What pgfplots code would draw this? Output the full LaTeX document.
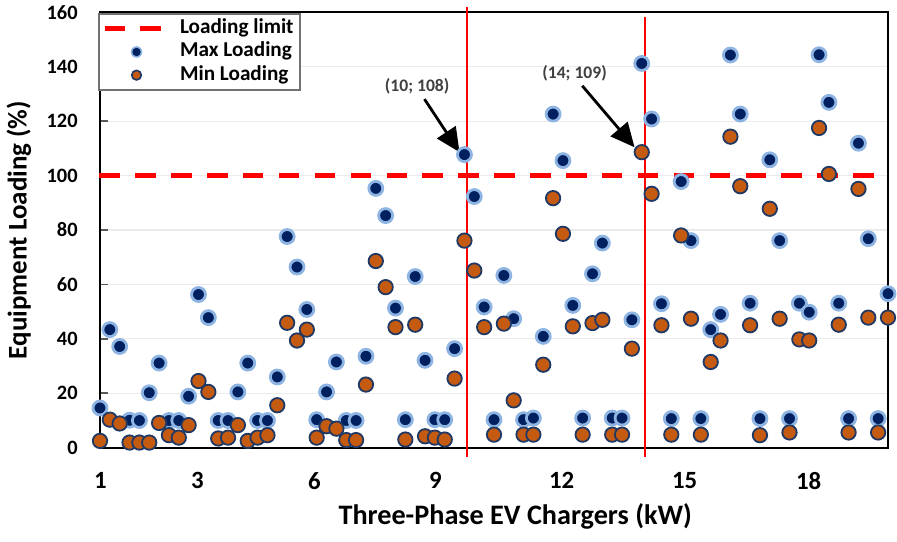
\documentclass[border=0pt]{standalone}
\usepackage{fontspec}
\setmainfont{Carlito}
\usepackage{pgfplots}
\usepackage{pgfplotstable}
\pgfplotsset{compat=1.18}
\usetikzlibrary{arrows.meta}

\definecolor{maxblue}{HTML}{002060}
\definecolor{maxglow}{HTML}{8DB4E2}
\definecolor{minorange}{HTML}{C55A11}
\definecolor{minedge}{HTML}{1F3864}
\definecolor{axgray}{HTML}{595959}
\definecolor{annot}{HTML}{404040}

\pgfplotsset{
  limitlegend/.style={legend image code/.code={\draw[##1] (0pt,0pt) -- (28.5pt,0pt);}},
  maxlegend/.style={legend image code/.code={\path[draw=none] (0pt,0pt) -- (28.5pt,0pt);
    \fill[draw=none, maxglow] (16pt,0pt) circle (2.9pt);
    \fill[draw=none, maxblue] (16pt,0pt) circle (2.1pt);}},
  minlegend/.style={legend image code/.code={\path[draw=none] (0pt,0pt) -- (28.5pt,0pt);
    \filldraw[fill=minorange, draw=minedge, line width=0.8pt] (16pt,0pt) circle (2.4pt);}},
}

% idx = case number along the axis, mx = max loading, mn = min loading (%)
\pgfplotstableread{
idx mx mn
0 14.6 2.5
1 43.4 10.3
2 37.2 8.9
3 10.1 1.9
4 10.0 1.9
5 20.2 1.9
6 31.1 9.1
7 10.0 4.6
8 10.0 3.7
9 18.9 8.3
10 56.3 24.5
11 47.8 20.5
12 10.0 3.4
13 10.0 3.7
14 20.5 8.3
15 31.1 2.5
16 10.0 3.7
17 10.0 4.6
18 26.0 15.6
19 77.6 45.9
20 66.4 39.4
21 50.8 43.4
22 10.3 3.7
23 20.5 7.9
24 31.5 7.0
25 10.0 2.8
26 10.0 2.8
27 33.6 23.2
28 95.3 68.6
29 85.3 59.0
30 51.3 44.3
31 10.3 3.0
32 62.9 45.2
33 32.1 4.2
34 10.3 3.7
35 10.3 3.0
36 36.4 25.4
37 107.7 76.1
38 92.3 65.1
39 51.7 44.3
40 10.3 4.8
41 63.3 45.6
42 47.4 17.4
43 10.3 4.8
44 10.9 4.8
45 40.9 30.5
46 122.6 91.7
47 105.5 78.6
48 52.3 44.6
49 10.9 4.8
50 63.9 45.8
51 75.2 47.0
52 10.9 4.8
53 10.9 4.8
54 47.0 36.4
55 141.2 108.6
56 120.8 93.3
57 52.9 45.0
58 10.7 4.8
59 97.8 78.0
60 76.1 47.4
61 10.7 4.8
62 43.4 31.5
63 49.0 39.4
64 144.3 114.3
65 122.6 96.1
66 53.1 45.0
67 10.7 4.6
68 105.8 87.8
69 76.1 47.4
70 10.7 5.6
71 53.1 39.8
72 49.8 39.4
73 144.4 117.5
74 126.9 100.6
75 53.1 45.2
76 10.7 5.6
77 111.9 95.1
78 76.8 47.8
79 10.7 5.6
80 56.6 47.8
}\loading

\begin{document}
\begin{tikzpicture}
\begin{axis}[
  at={(0,0)}, anchor=south west,
  scale only axis, width=394pt, height=217.7pt,
  xmin=0, xmax=80, ymin=0, ymax=160,
  clip=false,
  xtick={0.03,9.88,21.77,34.06,46.86,59.35,71.94},
  xticklabels={1,3,6,9,12,15,18},
  ytick={0,20,...,160},
  ytick pos=left, tick align=inside,
  major tick length=4pt,
  x tick style={draw=none},
  y tick style={axgray, line width=0.9pt},
  ymajorgrids, grid style={black!8, line width=0.6pt},
  axis line style={line width=1.1pt},
  /pgf/number format/assume math mode=true,
  yticklabel style={font=\fontsize{10.2}{12}\selectfont\bfseries, anchor=east, inner sep=0pt, xshift=-11pt},
  xticklabel style={font=\fontsize{12.4}{14}\selectfont\bfseries, anchor=north, inner sep=0pt, yshift=-12.1pt},
  xlabel={Three-Phase EV Chargers (kW)},
  ylabel={Equipment Loading (\%)},
  xlabel style={at={(axis description cs:0.527,-0.1775)}, anchor=base, font=\fontsize{14.1}{16}\selectfont\bfseries},
  ylabel style={at={(axis description cs:-0.093,0.5)}, anchor=base, font=\fontsize{13.5}{16}\selectfont\bfseries},
  legend cell align=left,
  legend style={at={(axis description cs:-0.0025,0.998)}, anchor=north west,
    draw=axgray!85, line width=1pt, fill=white, inner sep=1.5pt,
    column sep=6.5pt,
    font=\fontsize{10.6}{12.7}\selectfont\bfseries,
    nodes={inner xsep=1.5pt, inner ysep=0.8pt, text height=0.75em, text depth=0.25em}},
]
\addplot[red, line width=2.5pt, dash pattern=on 10.25pt off 7.7pt, limitlegend]
  coordinates {(-0.07,100) (78.55,100)};
\addlegendentry{Loading limit}

\addplot[only marks, mark=*, mark size=3.5pt,
  mark options={fill=maxblue, draw=maxglow, line width=1.4pt}, maxlegend]
  table[x=idx, y=mx] {\loading};
\addlegendentry{Max Loading}

\addplot[only marks, mark=*, mark size=3.6pt,
  mark options={fill=minorange, draw=minedge, line width=0.9pt}, minlegend]
  table[x=idx, y=mn] {\loading};
\addlegendentry{Min Loading}

\addplot[red, line width=1pt, forget plot] coordinates {(37.28,162) (37.28,-3.5)};
\addplot[red, line width=1pt, forget plot] coordinates {(55.29,158.4) (55.29,-3.5)};

\draw[black, line width=1.4pt, -{Triangle[length=12pt,width=11pt]}]
  (axis cs:32.94,128.1) -- (axis cs:36.5,108.6);
\draw[black, line width=1.4pt, -{Triangle[length=12pt,width=11pt]}]
  (axis cs:48.96,133.0) -- (axis cs:54.27,110.4);
\node[font=\fontsize{8.8}{10}\selectfont\bfseries, text=annot] at (axis cs:32.2,132.7) {(10; 108)};
\node[font=\fontsize{8.8}{10}\selectfont\bfseries, text=annot] at (axis cs:48.18,137.5) {(14; 109)};
\end{axis}
\pgfresetboundingbox
\path[use as bounding box] (-50pt,-46.65pt) rectangle (398.5pt,223.85pt);
\end{tikzpicture}
\end{document}
